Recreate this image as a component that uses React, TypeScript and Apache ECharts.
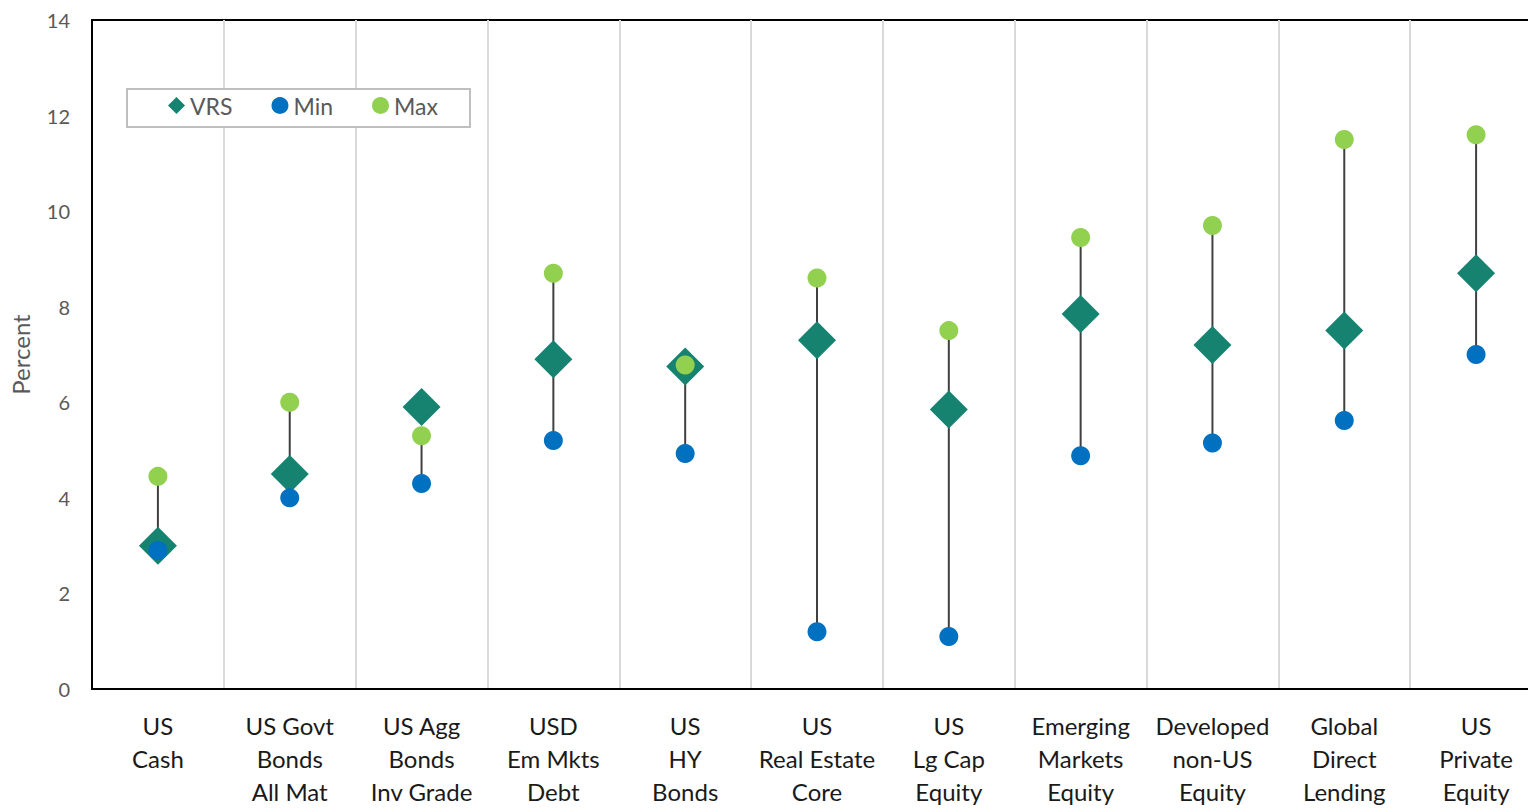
import React, { useEffect, useRef } from "react";
import * as echarts from "echarts";

const categories = [
  "US\nCash",
  "US Govt\nBonds\nAll Mat",
  "US Agg\nBonds\nInv Grade",
  "USD\nEm Mkts\nDebt",
  "US\nHY\nBonds",
  "US\nReal Estate\nCore",
  "US\nLg Cap\nEquity",
  "Emerging\nMarkets\nEquity",
  "Developed\nnon-US\nEquity",
  "Global\nDirect\nLending",
  "US\nPrivate\nEquity",
];
const vrs = [3.0, 4.5, 5.9, 6.9, 6.75, 7.3, 5.85, 7.85, 7.2, 7.5, 8.7];
const minVals = [2.9, 4.0, 4.3, 5.2, 4.93, 1.2, 1.1, 4.88, 5.15, 5.62, 7.0];
const maxVals = [4.45, 6.0, 5.3, 8.7, 6.78, 8.6, 7.5, 9.45, 9.7, 11.5, 11.6];
const yTicks = { min: 0, max: 14, interval: 2 };

const FONT = "Lato";

export default function App() {
  const ref = useRef<HTMLDivElement>(null);
  useEffect(() => {
    const chart = echarts.init(ref.current!, undefined, { renderer: "svg" });
    const rangeData = categories.map((_, i) => [i, minVals[i], maxVals[i]]);
    chart.setOption({
      animation: false,
      textStyle: { fontFamily: FONT },
      grid: {
        left: 92,
        top: 20,
        right: 0,
        bottom: 115,
        show: true,
        borderColor: "#000",
        borderWidth: 2,
        containLabel: false,
      },
      graphic: [
        {
          type: "rect",
          left: 126,
          top: 88,
          z: 50,
          shape: { x: 0, y: 0, width: 343, height: 38 },
          style: { fill: "#fff", stroke: "#bfbfbf", lineWidth: 2 },
        },
      ],
      legend: {
        left: 163,
        top: 89,
        z: 60,
        itemGap: 39,
        itemWidth: 17,
        itemHeight: 17,
        textStyle: { fontSize: 23, color: "#595959", fontFamily: FONT },
        data: [
          { name: "VRS", icon: "diamond" },
          { name: "Min", icon: "circle" },
          { name: "Max", icon: "circle" },
        ],
      },
      xAxis: {
        type: "category",
        data: categories,
        boundaryGap: true,
        axisLine: { show: true, lineStyle: { color: "#000", width: 2 } },
        axisTick: { show: false },
        splitLine: { show: true, lineStyle: { color: "#d9d9d9", width: 2 } },
        axisLabel: {
          interval: 0,
          margin: 20,
          fontSize: 24,
          lineHeight: 33,
          color: "#1a1a1a",
          fontFamily: FONT,
        },
      },
      yAxis: {
        type: "value",
        min: yTicks.min,
        max: yTicks.max,
        interval: yTicks.interval,
        name: "Percent",
        nameLocation: "middle",
        nameGap: 60,
        nameTextStyle: { fontSize: 24, color: "#595959", fontFamily: FONT },
        axisLine: { show: true, lineStyle: { color: "#000", width: 2 } },
        axisTick: { show: false },
        splitLine: { show: false },
        axisLabel: { fontSize: 20, color: "#595959", margin: 22, fontFamily: FONT },
      },
      series: [
        {
          type: "custom",
          name: "range",
          data: rangeData,
          z: 1,
          renderItem: (params: any, api: any) => {
            const p1 = api.coord([api.value(0), api.value(1)]);
            const p2 = api.coord([api.value(0), api.value(2)]);
            return {
              type: "line",
              shape: { x1: p1[0], y1: p1[1], x2: p2[0], y2: p2[1] },
              style: { stroke: "#404040", lineWidth: 2 },
            };
          },
        },
        {
          type: "scatter",
          name: "VRS",
          data: vrs,
          symbol: "diamond",
          symbolSize: 38,
          itemStyle: { color: "#168270", opacity: 1 },
          z: 2,
        },
        {
          type: "scatter",
          name: "Min",
          data: minVals,
          symbol: "circle",
          symbolSize: 19,
          itemStyle: { color: "#0070c0", opacity: 1 },
          z: 3,
        },
        {
          type: "scatter",
          name: "Max",
          data: maxVals,
          symbol: "circle",
          symbolSize: 19,
          itemStyle: { color: "#92d050", opacity: 1 },
          z: 4,
        },
      ],
    });
    return () => chart.dispose();
  }, []);
  return (
    <div
      ref={ref}
      style={{ position: "fixed", left: 0, top: 0, width: 1542, height: 808, background: "#fff" }}
    />
  );
}
